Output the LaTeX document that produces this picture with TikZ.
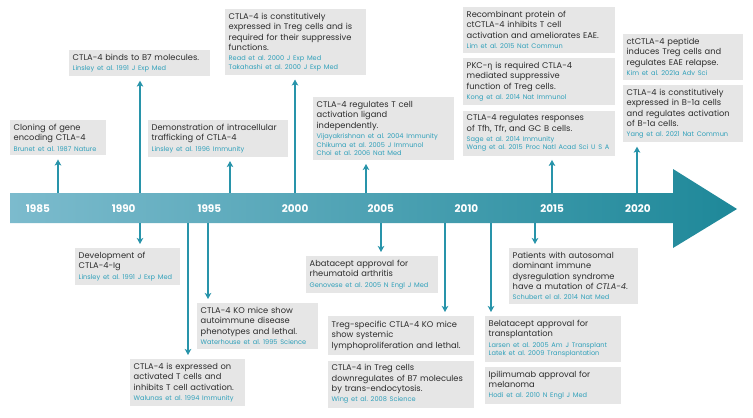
\documentclass[tikz,border=0pt]{standalone}
\usepackage{fontspec}
\setmainfont{Poppins}
\newfontfamily\citefont[WordSpace=0.85]{Poppins}
\newfontfamily\greekfont{Noto Sans}
\usetikzlibrary{arrows.meta, positioning}

\definecolor{boxgray}{RGB}{230,230,230}
\definecolor{txtgray}{RGB}{45,45,45}
\definecolor{citeblue}{RGB}{48,160,186}
\definecolor{linkteal}{RGB}{40,148,170}
\definecolor{bandleft}{RGB}{124,187,205}
\definecolor{bandright}{RGB}{30,136,153}

\newcommand{\evref}[1]{\par\vspace{1.5pt}{\color{citeblue}\citefont\fontsize{6.6}{8.7}\selectfont #1\par}}
\frenchspacing

\begin{document}
\begin{tikzpicture}[x=1pt, y=1pt, node distance=5pt,
    event/.style={fill=boxgray, text=txtgray, align=left, anchor=north west, inner xsep=3.5pt, inner ysep=4pt, font=\fontsize{8.3}{10.4}\selectfont\frenchspacing},
    year/.style={text=white, font=\fontsize{10.5}{10.5}\selectfont\bfseries},
    link/.style={-{Stealth[length=6pt, width=6.5pt, inset=1.5pt]}, draw=linkteal, line width=1.2pt, shorten >=4pt}]
    \useasboundingbox (0,0) rectangle (753,-418);

    % Timeline arrow
    \shade[left color=bandleft, right color=bandright]
      (10,-193) -- (673,-193) -- (673,-169) -- (737,-209) -- (673,-248) -- (673,-223) -- (10,-223) -- cycle;
    \foreach \yr [count=\i from 0] in {1985,1990,1995,2000,2005,2010,2015,2020}
      \node[year] (y\yr) at (38+85.7*\i,-209) {\yr};

    % Events above the timeline
    \node[event, text width=89pt] (cloning) at (10,-120) {Cloning of gene\\encoding CTLA-4\evref{Brunet et al. 1987 Nature}};
    \node[event, text width=134pt] (binds) at (69,-50) {CTLA-4 binds to B7 molecules.\evref{Linsley et al. 1991 J Exp Med}};
    \node[event, text width=133pt] (traffic) at (148,-120) {Demonstration of intracellular\\trafficking of CTLA-4\evref{Linsley et al. 1996 Immunity}};
    \node[event, text width=134pt] (tregexp) at (225,-9) {CTLA-4 is constitutively\\expressed in Treg cells and is\\required for their suppressive\\functions.\evref{Read et al. 2000 J Exp Med\\Takahashi et al. 2000 J Exp Med}};
    \node[event, text width=134pt] (ligand) at (313,-97) {CTLA-4 regulates T cell\\activation ligand\\independently.\evref{Vijayakrishnan et al. 2004 Immunity\\Chikuma et al. 2005 J Immunol\\Choi et al. 2006 Nat Med}};
    \node[event, text width=145pt] (recomb) at (463,-7) {Recombinant protein of\\ctCTLA-4 inhibits T cell\\activation and ameliorates EAE.\evref{Lim et al. 2015 Nat Commun}};
    \node[event, text width=145pt, below=of recomb] (pkc) {PKC-{\greekfont η} is required CTLA-4\\mediated suppressive\\function of Treg cells.\evref{Kong et al. 2014 Nat Immunol}};
    \node[event, text width=145pt, below=of pkc] (tfh) {CTLA-4 regulates responses\\of Tfh, Tfr, and GC B cells.\evref{Sage et al. 2014 Immunity\\Wang et al. 2015 Proc Natl Acad Sci U S A}};
    \node[event, text width=113pt] (peptide) at (623,-34) {ctCTLA-4 peptide\\induces Treg cells and\\regulates EAE relapse.\evref{Kim et al. 2021a Adv Sci}};
    \node[event, text width=113pt, below=of peptide] (bcells) {CTLA-4 is constitutively\\expressed in B-1a cells\\and regulates activation\\of B-1a cells.\evref{Yang et al. 2021 Nat Commun}};

    % Events below the timeline
    \node[event, text width=98pt] (ctlaig) at (75,-248) {Development of\\CTLA-4-Ig\evref{Linsley et al. 1991 J Exp Med}};
    \node[event, text width=114pt] (komice) at (197,-303) {CTLA-4 KO mice show\\autoimmune disease\\phenotypes and lethal.\evref{Waterhouse et al. 1995 Science}};
    \node[event, text width=108pt] (activated) at (130,-359) {CTLA-4 is expressed on\\activated T cells and\\inhibits T cell activation.\evref{Walunas et al. 1994 Immunity}};
    \node[event, text width=125pt] (abatacept) at (306,-256) {Abatacept approval for\\rheumatoid arthritis\evref{Genovese et al. 2005 N Engl J Med}};
    \node[event, text width=139pt, minimum height=39pt] (tregko) at (328,-316) {Treg-specific CTLA-4 KO mice\\show systemic\\lymphoproliferation and lethal.};
    \node[event, text width=139pt, below=of tregko] (endocyt) {CTLA-4 in Treg cells\\downregulates of B7 molecules\\by trans-endocytosis.\evref{Wing et al. 2008 Science}};
    \node[event, text width=129pt] (belatacept) at (485,-316) {Belatacept approval for\\transplantation\evref{Larsen et al. 2005 Am J Transplant\\Latek et al. 2009 Transplantation}};
    \node[event, text width=129pt, below=of belatacept] (ipili) {Ipilimumab approval for\\melanoma\evref{Hodi et al. 2010 N Engl J Med}};
    \node[event, text width=122pt] (patients) at (509,-248) {Patients with autosomal\\dominant immune\\dysregulation syndrome\\have a mutation of \textit{CTLA-4}.\evref{Schubert el al. 2014 Nat Med}};

    % Connectors
    \foreach \x/\n in {58/cloning, 140/binds, 230/traffic, 295/tregexp, 366/ligand, 552/tfh, 637/bcells} {
      \coordinate (\n-t) at (\x,-193);
      \draw[link] (\n-t) -- (\n-t |- \n.south);
    }
    \foreach \x/\n in {140/ctlaig, 208/komice, 188/activated, 381/abatacept, 445/tregko, 491/belatacept, 535/patients} {
      \coordinate (\n-b) at (\x,-223);
      \draw[link] (\n-b) -- (\n-b |- \n.north);
    }
\end{tikzpicture}
\end{document}
